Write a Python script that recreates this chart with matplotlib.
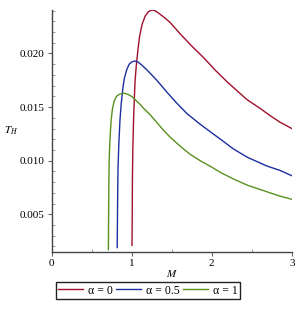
import numpy as np
import matplotlib
matplotlib.use('Agg')
from matplotlib import pyplot as plt
from matplotlib.ticker import MultipleLocator

plt.rcParams['font.family'] = ['Liberation Serif', 'DejaVu Serif']
plt.rcParams['mathtext.fontset'] = 'stix'

# valores
M_a0 = [1.005, 1.008, 1.01, 1.015, 1.025, 1.035, 1.044, 1.06, 1.08, 1.10, 1.13, 1.17,
        1.21, 1.25, 1.29, 1.34, 1.40, 1.48, 1.61, 1.75, 1.90, 2.05, 2.2, 2.44, 2.6,
        2.73, 2.85, 3.0]
T_a0 = [0.0021, 0.0050, 0.0082, 0.0110, 0.0140, 0.0160, 0.0175, 0.0190, 0.0204, 0.0216,
        0.0227, 0.0235, 0.0239, 0.02405, 0.0240, 0.02375, 0.0234, 0.0229, 0.0218, 0.0207,
        0.0196, 0.0184, 0.0173, 0.0157, 0.0149, 0.0142, 0.0136, 0.0130]

M_a05 = [0.82, 0.825, 0.83, 0.84, 0.855, 0.87, 0.89, 0.91, 0.94, 0.97, 1.00, 1.04,
         1.08, 1.13, 1.2, 1.315, 1.44, 1.56, 1.69, 1.856, 2.0, 2.11, 2.27, 2.45, 2.69,
         2.85, 3.0]
T_a05 = [0.0019, 0.0060, 0.0091, 0.0115, 0.0138, 0.0153, 0.0167, 0.0177, 0.0185, 0.0190,
         0.0192, 0.0193, 0.0192, 0.0189, 0.0184, 0.0175, 0.0164, 0.0154, 0.0144, 0.0134,
         0.0126, 0.0120, 0.0111, 0.0103, 0.0095, 0.0091, 0.0086]

M_a1 = [0.71, 0.713, 0.716, 0.72, 0.727, 0.735, 0.745, 0.76, 0.78, 0.81, 0.85, 0.90,
        0.95, 1.0, 1.044, 1.10, 1.16, 1.23, 1.30, 1.38, 1.48, 1.60, 1.73, 1.856, 2.0,
        2.11, 2.27, 2.45, 2.69, 2.85, 3.0]
T_a1 = [0.0017, 0.0050, 0.0080, 0.0100, 0.0115, 0.0127, 0.0138, 0.0148, 0.0155, 0.0160,
        0.0162, 0.0163, 0.0162, 0.0160, 0.0157, 0.0153, 0.0148, 0.0143, 0.0137, 0.0130,
        0.0122, 0.0114, 0.0106, 0.0100, 0.0094, 0.0089, 0.0083, 0.0077, 0.0071, 0.0067,
        0.0064]

etiquetas = ['α = 0', 'α = 0.5', 'α = 1']
colores = ['#a0102a', '#1c2ea0', '#5a9020']

fig = plt.figure(figsize=(3.03, 3.14), dpi=100)
ax = fig.add_axes([0.170, 0.197, 0.793, 0.771])

for M, T, lab, c in zip([M_a0, M_a05, M_a1], [T_a0, T_a05, T_a1], etiquetas, colores):
    ax.plot(M, T, color=c, lw=1.0, label=lab)

ax.set_xlim(0, 3)
ax.set_ylim(0.00147, 0.02405)
ax.xaxis.set_major_locator(MultipleLocator(1))
ax.xaxis.set_minor_locator(MultipleLocator(0.5))
ax.yaxis.set_major_locator(MultipleLocator(0.005))
ax.yaxis.set_minor_locator(MultipleLocator(0.001))
ax.yaxis.set_major_formatter(plt.FuncFormatter(lambda v, p: '%.3f' % v))

for s in ['top', 'right']:
    ax.spines[s].set_visible(False)
for s in ['left', 'bottom']:
    ax.spines[s].set_color('#444444')
    ax.spines[s].set_linewidth(1.0)

ax.tick_params(which='major', direction='out', length=3, width=0.8, color='#666666',
               labelsize=8, pad=2)
ax.tick_params(which='minor', direction='in', length=2.5, width=0.6, color='#888888')

ax.set_xlabel('$M$', fontsize=8, labelpad=0)
ax.set_ylabel('$T_H$', fontsize=8, rotation=0, labelpad=6, va='center')

leg = fig.legend(loc='center', bbox_to_anchor=(148 / 303, 1 - 290.5 / 314), ncol=3,
                 fontsize=8.5, handlelength=2.1, handletextpad=0.4, columnspacing=0.3,
                 borderpad=0.2, fancybox=False, framealpha=1, edgecolor='#222222')
leg.get_frame().set_linewidth(1.0)

fig.savefig('out.png', dpi=100)
